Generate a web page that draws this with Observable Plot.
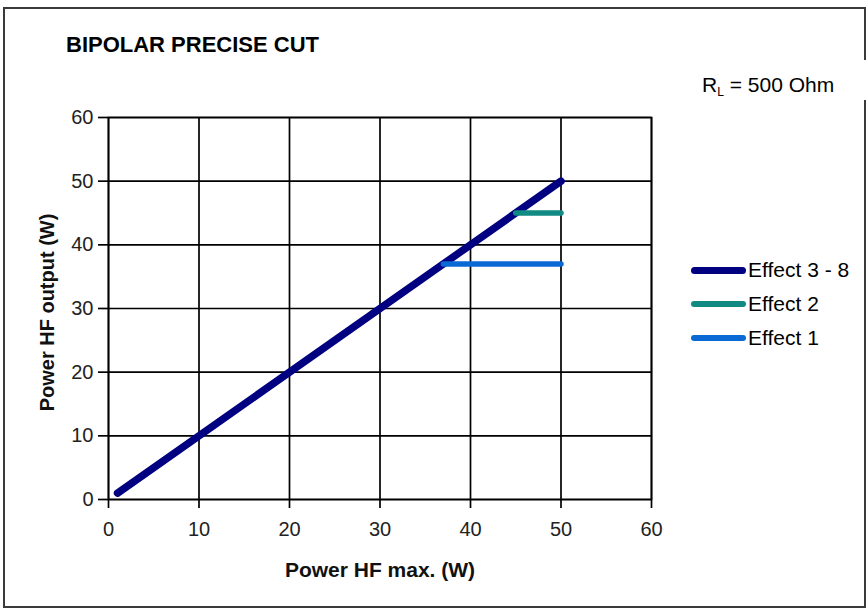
<!DOCTYPE html>
<html>
<head>
<meta charset="utf-8">
<script src="https://cdn.jsdelivr.net/npm/d3@7"></script>
<script src="https://cdn.jsdelivr.net/npm/@observablehq/plot@0.6"></script>
<style>
  html, body { margin: 0; padding: 0; background: #fff; }
  #wrap { position: relative; width: 866px; height: 609px; overflow: hidden; font-family: "Liberation Sans", Arial, sans-serif; color: #000; }
  #wrap svg { position: absolute; left: 0; top: 0; }
  .border { position: absolute; left: 3px; top: 7px; width: 859px; height: 597px; border: 2px solid #3a3a3a; box-sizing: content-box; }
  .gap { position: absolute; left: 858px; top: 60px; width: 12px; height: 40px; background: #fff; }
  .title { position: absolute; left: 66px; top: 32px; font-size: 22px; font-weight: bold; white-space: nowrap; }
  .rl { position: absolute; left: 702px; top: 73px; font-size: 21px; white-space: nowrap; }
  .rl sub { font-size: 12px; vertical-align: -4px; }
  .legend { position: absolute; left: 691px; top: 253px; }
  .item { position: relative; height: 34px; display: flex; align-items: center; }
  .sw { width: 55px; border-radius: 4px; margin-right: 2px; }
  .lab { font-size: 21px; white-space: nowrap; }
</style>
</head>
<body>
<div id="wrap">
  <div class="border"></div>
  <div class="gap"></div>
</div>
<script>
// ---- data ----
const chartTitle = "BIPOLAR PRECISE CUT";
const loadLabel = "500 Ohm";
const xLabel = "Power HF max. (W)";
const yLabel = "Power HF output (W)";
const xTicks = [0, 10, 20, 30, 40, 50, 60];
const yTicks = [0, 10, 20, 30, 40, 50, 60];
const seriesNames = ["Effect 3 - 8", "Effect 2", "Effect 1"];
const seriesColors = ["#000080", "#118a84", "#0b69d6"];
const seriesWidths = [7.5, 5.5, 5.5];
const effect38X = [1, 50];
const effect38Y = [1, 50];
const effect2X = [45, 50];
const effect2Y = [45, 45];
const effect1X = [37, 50];
const effect1Y = [37, 37];

const seriesData = [
  effect38X.map((x, i) => ({x, y: effect38Y[i], s: seriesNames[0]})),
  effect2X.map((x, i) => ({x, y: effect2Y[i], s: seriesNames[1]})),
  effect1X.map((x, i) => ({x, y: effect1Y[i], s: seriesNames[2]}))
];

const font = "'Liberation Sans', Arial, sans-serif";
const lw = 1.7;

const chart = Plot.plot({
  width: 866,
  height: 609,
  marginLeft: 108,
  marginRight: 215,
  marginTop: 117,
  marginBottom: 110,
  style: {fontFamily: font, fontSize: "20px", color: "#000", background: "transparent", overflow: "visible"},
  x: {domain: [0, 60]},
  y: {domain: [0, 60]},
  marks: [
    Plot.gridX(xTicks, {stroke: "#000", strokeOpacity: 1, strokeWidth: lw}),
    Plot.gridY(yTicks, {stroke: "#000", strokeOpacity: 1, strokeWidth: lw}),
    Plot.frame({stroke: "#000", strokeWidth: lw}),
    Plot.axisX(xTicks, {tickSize: 9, tickPadding: 13, strokeWidth: lw, label: null, fontSize: 20, fill: "#222"}),
    Plot.axisY(yTicks, {tickSize: 10, tickPadding: 5, strokeWidth: lw, label: null, fontSize: 20, fill: "#222"}),
    Plot.text([xLabel], {frameAnchor: "bottom", dy: 77, lineAnchor: "bottom", textAnchor: "middle", fontWeight: "bold", fontSize: 21, fill: "#111"}),
    Plot.text([yLabel], {frameAnchor: "left", dx: -55, dy: 4, rotate: -90, lineAnchor: "bottom", textAnchor: "middle", fontWeight: "bold", fontSize: 20, fill: "#111"}),
    ...seriesData.map((d, i) => Plot.line(d, {x: "x", y: "y", stroke: seriesColors[i], strokeWidth: seriesWidths[i], strokeLinecap: "round"}))
  ]
});

const wrap = document.getElementById("wrap");
wrap.appendChild(chart);

const t = document.createElement("div");
t.className = "title";
t.textContent = chartTitle;
wrap.appendChild(t);

const rl = document.createElement("div");
rl.className = "rl";
rl.innerHTML = "R<sub>L</sub> = " + loadLabel;
wrap.appendChild(rl);

const lg = document.createElement("div");
lg.className = "legend";
seriesNames.forEach((n, i) => {
  const it = document.createElement("div");
  it.className = "item";
  const sw = document.createElement("div");
  sw.className = "sw";
  sw.style.background = seriesColors[i];
  sw.style.height = (i === 0 ? 7 : 6) + "px";
  const lb = document.createElement("span");
  lb.className = "lab";
  lb.textContent = n;
  it.appendChild(sw);
  it.appendChild(lb);
  lg.appendChild(it);
});
wrap.appendChild(lg);
</script>
</body>
</html>
